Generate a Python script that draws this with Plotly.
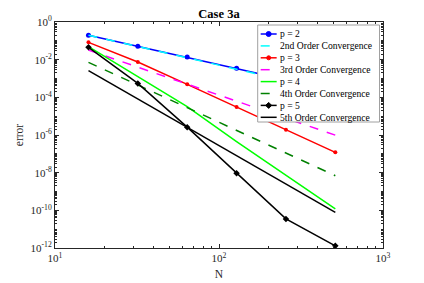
import plotly.graph_objects as go

N = [16, 32, 64, 128, 256, 512]
err_p2 = [0.2, 0.052, 0.0138, 0.0035, 8.6e-4, 2.15e-4]
ref2 = [0.2, 0.05, 0.0125, 0.003125, 7.8e-4, 1.95e-4]
err_p3 = [0.083, 0.0075, 4.9e-4, 3.1e-5, 1.9e-6, 1.2e-7]
ref3 = [0.032, 0.004, 5.0e-4, 6.25e-5, 7.8e-6, 9.8e-7]
err_p4 = [0.049, 1.2e-3, 3.2e-5, 4.5e-7, 7.2e-9, 1.2e-10]
ref4 = [0.0072, 4.5e-4, 2.8e-5, 1.76e-6, 1.1e-7, 6.9e-9]
err_p5 = [0.045, 5.5e-4, 2.6e-6, 9.3e-9, 3.5e-11, 1.3e-12]
ref5 = [0.0026, 8.1e-5, 2.5e-6, 7.9e-8, 2.5e-9, 7.7e-11]

names = ["p = 2", "2nd Order Convergence", "p = 3", "3rd Order Convergence",
         "p = 4", "4th Order Convergence", "p = 5", "5th Order Convergence"]
x_ticks = [10, 100, 1000]
x_tick_text = ["10<sup>1</sup>", "10<sup>2</sup>", "10<sup>3</sup>"]
y_exps = [0, -2, -4, -6, -8, -10, -12]

FONT = "Liberation Serif"
W, H = 424, 283
OFF = 8  # page body margin offset
ML, MT = 55 - OFF, 22 - OFF
MR, MB = W - (383.5 - OFF), H - (248 - OFF)
PW, PH = W - ML - MR, H - MT - MB


def px(x):
    return (x - OFF - ML) / PW


def py(y):
    return (H - MB - (y - OFF)) / PH


styles = [
    dict(color="#0000ff", dash="solid", marker="circle", msize=5),
    dict(color="#00ffff", dash="dash", marker=None, msize=0),
    dict(color="#ff0000", dash="solid", marker="circle", msize=4),
    dict(color="#ff00ff", dash="dash", marker=None, msize=0),
    dict(color="#00ff00", dash="solid", marker=None, msize=0),
    dict(color="#008000", dash="dash", marker=None, msize=0),
    dict(color="#000000", dash="solid", marker="diamond", msize=5),
    dict(color="#000000", dash="solid", marker=None, msize=0),
]
series = [err_p2, ref2, err_p3, ref3, err_p4, ref4, err_p5, ref5]

fig = go.Figure()
for nm, ys, st in zip(names, series, styles):
    mode = "lines+markers" if st["marker"] else "lines"
    kw = {}
    if st["marker"]:
        kw["marker"] = dict(symbol=st["marker"], size=st["msize"], color=st["color"])
    fig.add_trace(go.Scatter(x=N, y=ys, name=nm, mode=mode, showlegend=False,
                             line=dict(color=st["color"], width=1.5, dash=st["dash"]), **kw))

# manual compact legend (layout decoration)
shapes = [dict(type="rect", xref="paper", yref="paper",
               x0=px(258), x1=px(380), y0=py(122), y1=py(25),
               fillcolor="white", line=dict(color="#a0a0a0", width=1), layer="above")]
annotations = []
row0, dy = 34.0, 11.9
for i, (nm, st) in enumerate(zip(names, styles)):
    yy = row0 + i * dy
    shapes.append(dict(type="line", xref="paper", yref="paper",
                       x0=px(261), x1=px(277), y0=py(yy), y1=py(yy), layer="above",
                       line=dict(color=st["color"], width=1.5,
                                 dash="dash" if st["dash"] == "dash" else "solid")))
    if st["marker"] == "circle":
        r = st["msize"] / 2
        shapes.append(dict(type="circle", xref="paper", yref="paper", layer="above",
                           x0=px(269 - r), x1=px(269 + r), y0=py(yy + r), y1=py(yy - r),
                           fillcolor=st["color"], line=dict(color=st["color"], width=1)))
    elif st["marker"] == "diamond":
        r = 3
        path = "M %f,%f L %f,%f L %f,%f L %f,%f Z" % (
            px(269), py(yy - r), px(269 + r), py(yy), px(269), py(yy + r), px(269 - r), py(yy))
        shapes.append(dict(type="path", xref="paper", yref="paper", path=path, layer="above",
                           fillcolor=st["color"], line=dict(color=st["color"], width=1)))
    annotations.append(dict(text=nm, xref="paper", yref="paper", x=px(278.5), y=py(yy),
                            xanchor="left", yanchor="middle", showarrow=False,
                            font=dict(family=FONT, size=9.6, color="black")))

x_minor = [m * 10 ** e for e in (1, 2) for m in range(2, 10)]
y_minor = [m * 10.0 ** e for e in range(-12, 0) for m in range(2, 10)] + [10.0 ** e for e in range(-11, 0, 2)]

fig.update_layout(
    width=W, height=H,
    margin=dict(l=ML, r=MR, t=MT, b=MB),
    paper_bgcolor="white", plot_bgcolor="white",
    font=dict(family=FONT, size=11, color="#262626"),
    title=dict(text="<b>Case 3a</b>", x=0.5, xref="paper", yref="container",
               y=1 - 5.5 / H, yanchor="middle",
               font=dict(family=FONT, size=12.5, color="black")),
    showlegend=False,
    shapes=shapes, annotations=annotations,
)
fig.update_xaxes(type="log", range=[1, 3], tickmode="array", tickvals=x_ticks,
                 ticktext=x_tick_text, ticks="inside", ticklen=4, tickcolor="#262626",
                 showline=True, linecolor="#262626", linewidth=1, mirror="ticks",
                 showgrid=False, zeroline=False, automargin=False,
                 minor=dict(tickvals=x_minor, ticks="inside", ticklen=2, tickcolor="#262626"),
                 title=dict(text="N", standoff=6, font=dict(family=FONT, size=11.5)))
fig.update_yaxes(type="log", range=[-12, 0], tickmode="array",
                 tickvals=[10.0 ** e for e in y_exps],
                 ticktext=["10<sup>%d</sup>" % e for e in y_exps],
                 ticks="inside", ticklen=4, tickcolor="#262626",
                 showline=True, linecolor="#262626", linewidth=1, mirror="ticks",
                 showgrid=False, zeroline=False, automargin=False,
                 minor=dict(tickvals=y_minor, ticks="inside", ticklen=2, tickcolor="#262626"),
                 title=dict(text="error", standoff=4, font=dict(family=FONT, size=11.5)))

fig.write_html("out.html")
